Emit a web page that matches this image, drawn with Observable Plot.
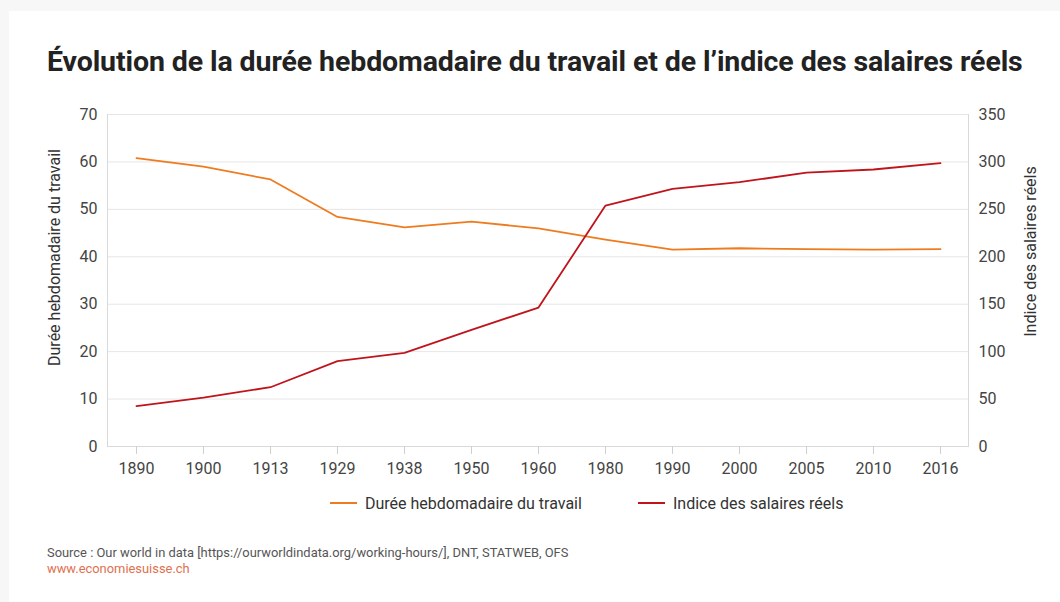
<!DOCTYPE html>
<html><head><meta charset="utf-8">
<script src="https://cdn.jsdelivr.net/npm/d3@7"></script>
<script src="https://cdn.jsdelivr.net/npm/@observablehq/plot@0.6"></script>
<style>
html,body{margin:0;padding:0;}
body{width:1060px;height:602px;background:#f7f7f7;position:relative;overflow:hidden;font-family:Roboto,"Noto Sans",sans-serif;}
#card{position:absolute;left:9px;top:11px;right:0;bottom:0;background:#fff;}
#title{position:absolute;left:47px;top:45px;font-family:Roboto;font-weight:700;font-size:28.5px;color:#222;white-space:nowrap;letter-spacing:-0.1px;}
#chart{position:absolute;left:0;top:0;}
#legend{position:absolute;top:492px;left:0;width:1060px;font-size:16px;color:#333;}
.item{position:absolute;display:flex;align-items:center;white-space:nowrap;}
.item svg{margin-right:8px;}
#source{position:absolute;left:47px;top:545px;font-size:12.9px;color:#555;white-space:nowrap;}
#url{position:absolute;left:47px;top:561px;font-size:12.9px;color:#e07050;white-space:nowrap;}
</style></head>
<body>
<div id="card"></div>
<div id="title">Évolution de la durée hebdomadaire du travail et de l’indice des salaires réels</div>
<div id="chart"></div>
<div id="legend"></div>
<div id="source">Source : Our world in data [https://ourworldindata.org/working-hours/], DNT, STATWEB, OFS</div>
<div id="url">www.economiesuisse.ch</div>
<script>
const years = ["1890","1900","1913","1929","1938","1950","1960","1980","1990","2000","2005","2010","2016"];
const dureeHebdo = [60.8,59.0,56.3,48.4,46.2,47.4,46.0,43.6,41.5,41.8,41.6,41.5,41.6];
const indiceSalaires = [42.5,51.6,62.5,90,98.8,123,146.5,254,271.6,278.6,288.8,292,298.7];
const leftTicks = [0,10,20,30,40,50,60,70];
const rightTicks = [0,50,100,150,200,250,300,350];
const seriesNames = ["Durée hebdomadaire du travail","Indice des salaires réels"];
const seriesColors = ["#ef7b1f","#c0141c"];

const ratio = rightTicks[rightTicks.length-1] / leftTicks[leftTicks.length-1];
const data = [];
years.forEach((y,i)=>{
  data.push({year:y, series:seriesNames[0], v:dureeHebdo[i]});
  data.push({year:y, series:seriesNames[1], v:indiceSalaires[i]/ratio});
});

const chart = Plot.plot({
  width:1060, height:480,
  marginTop:114, marginBottom:34, marginLeft:107, marginRight:92,
  style:{fontFamily:"Roboto, sans-serif", fontSize:"16px", color:"#444", background:"transparent"},
  x:{type:"point", domain:years, padding:0.4},
  y:{domain:[0,70]},
  color:{domain:seriesNames, range:seriesColors},
  marks:[
    Plot.gridY(leftTicks,{stroke:"#e6e6e6", strokeOpacity:1}),
    Plot.frame({anchor:"left", stroke:"#d9d9d9"}),
    Plot.frame({anchor:"right", stroke:"#d9d9d9"}),
    Plot.frame({anchor:"bottom", stroke:"#d9d9d9"}),
    Plot.axisY(leftTicks,{anchor:"left", tickSize:0, tickPadding:10, label:null, fill:"#444"}),
    Plot.axisY(leftTicks,{anchor:"right", tickSize:0, tickPadding:10, label:null, fill:"#444", tickFormat:(d,i)=>rightTicks[i], textAnchor:"start"}),
    Plot.axisX({tickSize:8, tickPadding:8, stroke:"#d0d0d0", label:null, fill:"#444"}),
    Plot.text([seriesNames[0]],{frameAnchor:"left", text:d=>d, rotate:-90, textAnchor:"middle", dx:-53, dy:-23, fill:"#333", fontSize:16}),
    Plot.text([seriesNames[1]],{frameAnchor:"right", text:d=>d, rotate:-90, textAnchor:"middle", dx:62, dy:-29, fill:"#333", fontSize:16}),
    Plot.line(data,{x:"year", y:"v", z:"series", stroke:"series", strokeWidth:1.8})
  ]
});
document.getElementById("chart").appendChild(chart);

const legend = document.getElementById("legend");
const lx = [330, 638];
seriesNames.forEach((n,i)=>{
  const d = document.createElement("div");
  d.className="item";
  d.style.left = lx[i]+"px";
  d.innerHTML = `<svg width="27" height="22"><line x1="0" x2="27" y1="11" y2="11" stroke="${seriesColors[i]}" stroke-width="2"/></svg><span>${n}</span>`;
  legend.appendChild(d);
});
</script>
</body></html>
